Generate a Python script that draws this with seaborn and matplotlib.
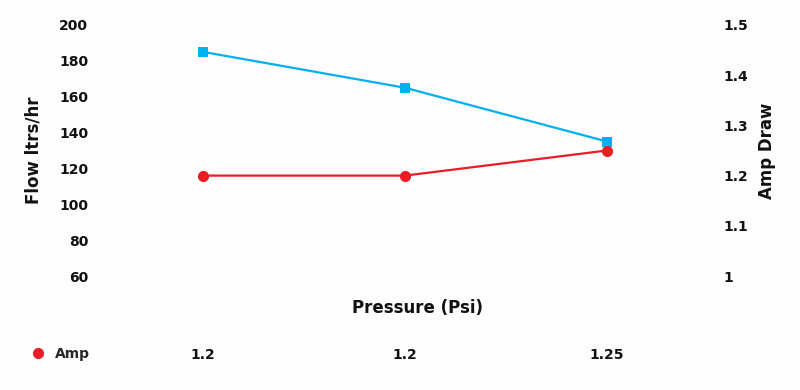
import matplotlib
matplotlib.use("Agg")
import matplotlib.pyplot as plt
import seaborn as sns
import pandas as pd
from matplotlib.lines import Line2D

pressure_labels = ["1.2", "1.2", "1.25"]
flow = [185, 165, 135]
amp = [1.2, 1.2, 1.25]
left_ticks = [60, 80, 100, 120, 140, 160, 180, 200]
right_ticks = [1.0, 1.1, 1.2, 1.3, 1.4, 1.5]
right_tick_labels = ["1", "1.1", "1.2", "1.3", "1.4", "1.5"]

BLUE = "#00b0f0"
RED = "#ec1c24"
BG = "#fdfdfd"

sns.set_theme(style="white")
plt.rcParams["font.family"] = ["DejaVu Sans"]

df = pd.DataFrame({"pos": list(range(len(pressure_labels))), "flow": flow, "amp": amp})

fig = plt.figure(figsize=(8, 3.9), dpi=100, facecolor=BG)
ax = fig.add_axes([0.1275, 1 - 276 / 390, 0.7575, (276 - 25) / 390])
ax.set_facecolor(BG)
ax2 = ax.twinx()

sns.lineplot(data=df, x="pos", y="flow", ax=ax, color=BLUE, marker="s", markersize=7,
             markeredgewidth=0, linewidth=1.6, sort=False)
sns.lineplot(data=df, x="pos", y="amp", ax=ax2, color=RED, marker="o", markersize=8,
             markeredgewidth=0, linewidth=1.6, sort=False)

ax.set_xlim(-0.5, len(pressure_labels) - 0.5)
ax.set_ylim(60, 200)
ax2.set_ylim(1.0, 1.5)
ax.set_yticks(left_ticks)
ax.set_yticklabels([str(t) for t in left_ticks])
ax2.set_yticks(right_ticks)
ax2.set_yticklabels(right_tick_labels)
ax.set_xticks(df["pos"])
ax.set_xticklabels(pressure_labels)

for a in (ax, ax2):
    for s in a.spines.values():
        s.set_visible(False)
    a.tick_params(length=0)
    a.grid(False)
    for lbl in a.get_xticklabels() + a.get_yticklabels():
        lbl.set_fontweight("bold")
        lbl.set_fontsize(10)
        lbl.set_color("#111111")

ax.tick_params(axis="x", pad=52)
ax.tick_params(axis="y", pad=10)
ax2.tick_params(axis="y", pad=11)

ax.set_xlabel("")
ax.set_ylabel("Flow ltrs/hr", fontsize=12, fontweight="bold", color="#111111", labelpad=12)
ax2.set_ylabel("Amp Draw", fontsize=12, fontweight="bold", color="#111111", labelpad=7)

fig.text(417 / 800, 1 - 308 / 390, "Pressure (Psi)", ha="center", va="center",
         fontsize=12, fontweight="bold", color="#111111")

handle = Line2D([], [], color=RED, marker="o", linestyle="none", markersize=8, markeredgewidth=0)
fig.legend([handle], ["Amp"], loc="center left", bbox_to_anchor=(15 / 800, 1 - 354 / 390),
           frameon=False, prop={"weight": "bold", "size": 10}, handletextpad=0.5,
           handlelength=1.5)

fig.savefig("out.png", dpi=100, facecolor=BG)
